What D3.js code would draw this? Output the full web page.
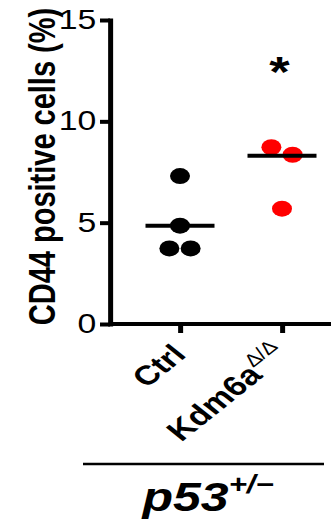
<!DOCTYPE html>
<html>
<head>
<meta charset="utf-8">
<script src="https://cdn.jsdelivr.net/npm/d3@7"></script>
<style>
  html, body { margin: 0; padding: 0; background: #fff; }
  svg { display: block; }
  text { font-family: "Liberation Sans", Arial, Helvetica, sans-serif; }
</style>
</head>
<body>
<svg id="chart" width="331" height="524"></svg>
<script>
// ---- data ----
const categories = ["Ctrl", "Kdm6a"];
const ctrlValues = [7.30, 4.85, 3.73, 3.73];
const kdmValues = [8.72, 8.35, 5.69];
const centerLineValues = [4.85, 8.30];
const yTicks = [0, 5, 10, 15];
const significance = ["", "*"];
const groupColors = ["#000000", "#ff0000"];
const yTitle = "CD44 positive cells (%)";
const genotypeBase = "p53";
const genotypeSup = "+/\u2212";
const kdmSup = "\u0394/\u0394";

// ---- layout ----
const sx = 1.25;               // the figure is horizontally stretched
const W = 331 / sx, H = 524;
const svg = d3.select("#chart");
const g = svg.append("g").attr("transform", `scale(${sx},1)`);

const axisX = 88, xEnd = W;
const y = d3.scaleLinear().domain([0, 15]).range([324, 20]);
const x = d3.scalePoint().domain(categories).range([144, 225.6]);
const r = 8, dodge = 17, lineHalf = 27.6, sw = 4;

// y axis
const yAxis = g.append("g").attr("transform", `translate(${axisX},0)`)
  .call(d3.axisLeft(y).tickValues(yTicks).tickSize(8).tickPadding(3).tickSizeOuter(0));
yAxis.select(".domain").attr("stroke", "#000").attr("stroke-width", sw).attr("stroke-linecap", "square");
yAxis.selectAll(".tick line").attr("stroke", "#000").attr("stroke-width", sw);
yAxis.selectAll(".tick text").attr("fill", "#000").attr("font-size", 27)
  .style("font-family", '"Liberation Sans", Arial, sans-serif');

// x axis line
g.append("line").attr("x1", axisX).attr("x2", xEnd).attr("y1", y(0)).attr("y2", y(0))
  .attr("stroke", "#000").attr("stroke-width", sw);
const xAxis = g.append("g").attr("transform", `translate(0,${y(0)})`)
  .call(d3.axisBottom(x).tickSize(9).tickFormat(""));
xAxis.select(".domain").remove();
xAxis.selectAll(".tick line").attr("stroke", "#000").attr("stroke-width", sw);

// x labels
categories.forEach((c, i) => {
  const t = g.append("text")
    .attr("transform", `translate(${x(c) + 6},${y(0) + 32}) rotate(-45)`)
    .attr("text-anchor", "end").attr("font-weight", "bold").attr("font-size", i === 1 ? 28 : 27)
    .attr("fill", "#000");
  t.append("tspan").text(c);
  if (i === 1) {
    t.append("tspan").attr("dy", -12).attr("font-size", 18).attr("font-weight", "normal").text(kdmSup);
  }
});

// points with simple dodge
function dodgePositions(vals) {
  const sorted = vals.map((v, i) => ({ v, i })).sort((a, b) => b.v - a.v);
  const clusters = [];
  sorted.forEach(p => {
    const last = clusters[clusters.length - 1];
    if (last && Math.abs(y(last[last.length - 1].v) - y(p.v)) < 2 * r) last.push(p);
    else clusters.push([p]);
  });
  const out = [];
  clusters.forEach(cl => cl.forEach((p, k) => out.push({ v: p.v, off: (k - (cl.length - 1) / 2) * dodge })));
  return out;
}
[ctrlValues, kdmValues].forEach((vals, gi) => {
  const cx = x(categories[gi]);
  g.append("g").selectAll("circle").data(dodgePositions(vals)).join("circle")
    .attr("cx", d => cx + d.off).attr("cy", d => y(d.v)).attr("r", r)
    .attr("fill", groupColors[gi]);
  g.append("line")
    .attr("x1", cx - lineHalf).attr("x2", cx + lineHalf)
    .attr("y1", y(centerLineValues[gi])).attr("y2", y(centerLineValues[gi]))
    .attr("stroke", "#000").attr("stroke-width", sw);
  if (significance[gi]) {
    g.append("text").attr("x", cx - 2).attr("y", 86).attr("text-anchor", "middle")
      .attr("font-weight", "bold").attr("font-size", 42).attr("fill", "#000").text(significance[gi]);
  }
});

// y title
g.append("text")
  .attr("transform", `translate(44,166.5) rotate(-90)`)
  .attr("text-anchor", "middle").attr("font-weight", "bold").attr("font-size", 29)
  .attr("fill", "#000").text(yTitle);

// genotype bracket
g.append("line").attr("x1", 66.4).attr("x2", 259.2).attr("y1", 464).attr("y2", 464)
  .attr("stroke", "#000").attr("stroke-width", 2.5);
const gt = g.append("text").attr("x", 114).attr("y", 511)
  .attr("font-weight", "bold").attr("font-style", "italic").attr("font-size", 40).attr("fill", "#000");
gt.append("tspan").text(genotypeBase);
gt.append("tspan").attr("dy", -18).attr("font-size", 25).text(genotypeSup);
</script>
</body>
</html>
